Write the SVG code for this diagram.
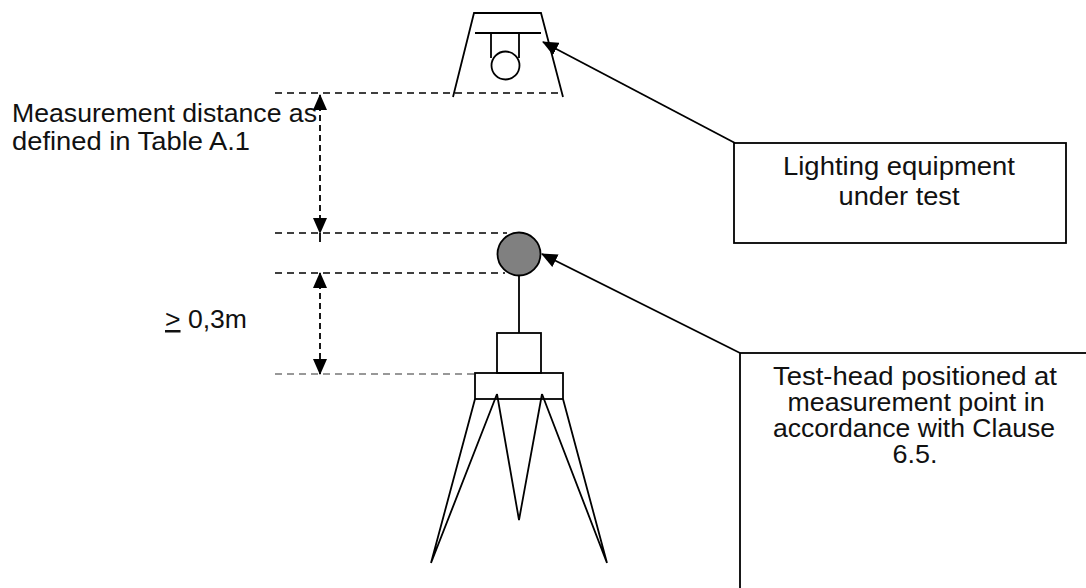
<svg xmlns="http://www.w3.org/2000/svg" width="1086" height="588" viewBox="0 0 1086 588">
<style>
.ln{stroke:#000;stroke-width:1.8;fill:none}
.dash{stroke:#000;stroke-width:1.6;stroke-dasharray:7 5;fill:none}
.vdash{stroke:#000;stroke-width:1.8;stroke-dasharray:6 4;fill:none}
.t{font-family:"Liberation Sans",Arial,sans-serif;font-size:25px;fill:#111}
.c{text-anchor:middle}
</style>
<defs>
<marker id="ah" markerUnits="userSpaceOnUse" markerWidth="16" markerHeight="14" refX="15" refY="7" orient="auto-start-reverse" viewBox="0 0 16 14">
<path d="M0,0 L16,7 L0,14 z" fill="#000"/>
</marker>
</defs>
<rect width="1086" height="588" fill="#fff"/>

<g id="luminaire">
<path class="ln" d="M453,97 L474,13 L541,13 L563,97"/>
<line class="ln" x1="475" y1="33" x2="541" y2="33"/>
<line class="ln" x1="491" y1="33" x2="491" y2="58"/>
<line class="ln" x1="519" y1="33" x2="519" y2="58"/>
<circle class="ln" cx="505.5" cy="65.5" r="14"/>
</g>

<g id="test-head">
<circle cx="519" cy="254" r="21.5" fill="#808080" stroke="#000" stroke-width="1.8"/>
<line class="ln" x1="519" y1="275.5" x2="519" y2="333"/>
<rect class="ln" x="497" y="333" width="44" height="40"/>
<rect class="ln" x="475" y="373" width="88" height="26"/>
<path class="ln" d="M475,399 L431,563 M497,394 L431,563 M497,394 L519,520 L542,394 M542,394 L607,563 M563,399 L607,563"/>
</g>

<g id="box-lighting">
<rect class="ln" x="734" y="143" width="332" height="100"/>
<text class="t c" x="899" y="175" textLength="232" lengthAdjust="spacingAndGlyphs">Lighting equipment</text>
<text class="t c" x="899" y="205" textLength="121" lengthAdjust="spacingAndGlyphs">under test</text>
</g>

<g id="box-testhead">
<rect class="ln" x="740" y="353" width="360" height="260"/>
<text class="t c" x="915" y="385" textLength="284" lengthAdjust="spacingAndGlyphs">Test-head positioned at</text>
<text class="t c" x="916" y="411" textLength="257" lengthAdjust="spacingAndGlyphs">measurement point in</text>
<text class="t c" x="914" y="437" textLength="282" lengthAdjust="spacingAndGlyphs">accordance with Clause</text>
<text class="t c" x="915" y="463" textLength="45" lengthAdjust="spacingAndGlyphs">6.5.</text>
</g>

<g id="labels">
<text class="t" x="12" y="122" textLength="305" lengthAdjust="spacingAndGlyphs">Measurement distance as</text>
<text class="t" x="12" y="150" textLength="238" lengthAdjust="spacingAndGlyphs">defined in Table A.1</text>
<text class="t" x="165" y="328" textLength="82" lengthAdjust="spacingAndGlyphs"><tspan text-decoration="underline">&gt;</tspan> 0,3m</text>
</g>

<g id="connectors">
<line class="dash" x1="275" y1="93" x2="560" y2="93"/>
<line class="dash" x1="275" y1="233" x2="507" y2="233"/>
<line class="dash" x1="275" y1="273" x2="505" y2="273"/>
<line class="dash" x1="275" y1="374" x2="476" y2="374" style="stroke:#777"/>
<line class="vdash" x1="320" y1="95" x2="320" y2="233" marker-start="url(#ah)" marker-end="url(#ah)"/>
<line class="ln" x1="320" y1="233" x2="320" y2="242"/>
<line class="vdash" x1="320" y1="273" x2="320" y2="374" marker-start="url(#ah)" marker-end="url(#ah)"/>
<line class="ln" x1="735" y1="143" x2="543" y2="42" marker-end="url(#ah)"/>
<line class="ln" x1="740" y1="353" x2="542" y2="254" marker-end="url(#ah)"/>
</g>
</svg>
